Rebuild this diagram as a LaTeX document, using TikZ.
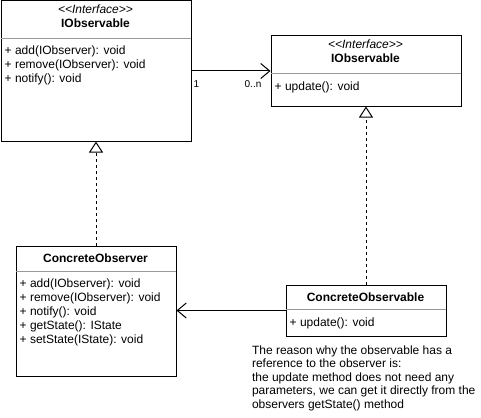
\documentclass[tikz,border=0pt]{standalone}
\usepackage{fontspec}
\setmainfont{Liberation Sans}
\usetikzlibrary{arrows.meta}
\definecolor{sepgray}{HTML}{999999}
\begin{document}
\begin{tikzpicture}[x=1pt,y=-1pt,
  box/.style={draw=black, line width=1pt, inner sep=0pt, anchor=north west},
  sepline/.style={draw=sepgray, line width=1pt},
  txt/.style={inner sep=0pt, font=\fontsize{12}{14}\selectfont, text height=9pt, text depth=3pt},
  attr/.style={txt, anchor=west},
  stereo/.style={txt, font=\fontsize{12}{14}\selectfont\itshape},
  title/.style={txt, font=\fontsize{12}{14}\selectfont\bfseries},
  mult/.style={inner sep=0pt, font=\fontsize{10}{12}\selectfont, text height=7.5pt, text depth=2.5pt},
  assoc/.style={line width=1pt, -{Straight Barb[length=9pt,width=15pt]}},
  realize/.style={line width=1pt, dash pattern=on 3pt off 3pt, -{Triangle[open,length=11pt,width=14pt]}}
]
\useasboundingbox (0,0) rectangle (481,417);

% IObservable (left)
\node[box, minimum width=190pt, minimum height=140pt] (obs) at (0.5,0.5) {};
\draw[sepline] (0.5,38.5) -- (190.5,38.5);
\node[stereo] (obsst) at (95.5,11) {<\kern0pt<Interface>\kern0pt>};
\node[title] (obsname) at (95.5,25) {IObservable};
\node[attr] (obsa1) at (4.5,52) {+ add(IObserver): void};
\node[attr] (obsa2) at (4.5,66) {+ remove(IObserver): void};
\node[attr] (obsa3) at (4.5,80) {+ notify(): void};

% IObservable (right)
\node[box, minimum width=190pt, minimum height=70pt] (ifc) at (270.5,35.5) {};
\draw[sepline] (270.5,73.5) -- (460.5,73.5);
\node[stereo] (ifcst) at (365.5,45.5) {<\kern0pt<Interface>\kern0pt>};
\node[title] (ifcname) at (365.5,59.5) {IObservable};
\node[attr] (ifca1) at (274.5,87.5) {+ update(): void};

% ConcreteObserver
\node[box, minimum width=160pt, minimum height=130pt] (cob) at (15.5,245.5) {};
\draw[sepline] (15.5,271.5) -- (175.5,271.5);
\node[title] (cobname) at (95.5,259) {ConcreteObserver};
\node[attr] (coba1) at (19.5,284.5) {+ add(IObserver): void};
\node[attr] (coba2) at (19.5,298.5) {+ remove(IObserver): void};
\node[attr] (coba3) at (19.5,312.5) {+ notify(): void};
\node[attr] (coba4) at (19.5,326.5) {+ getState(): IState};
\node[attr] (coba5) at (19.5,340.5) {+ setState(IState): void};

% ConcreteObservable
\node[box, minimum width=160pt, minimum height=51pt] (cobs) at (285.5,284.5) {};
\draw[sepline] (285.5,309.5) -- (445.5,309.5);
\node[title] (cobsname) at (365.5,298) {ConcreteObservable};
\node[attr] (cobsa1) at (289.5,323) {+ update(): void};

% note
\node[inner sep=0pt, anchor=north west, align=left,
      font=\fontsize{12}{13.4}\selectfont] (note) at (251.8,345.5) {The reason why the observable has a\\reference to the observer is:\\the update method does not need any\\parameters, we can get it directly from the\\observers getState() method};

% connectors
\draw[assoc] (obs.east) -- (ifc.west);
\node[mult] (m1) at (196.5,85) {1};
\node[mult] (m2) at (253,85) {0..n};
\draw[assoc] (cobs.west) -- (cobs.west -| cob.east);
\draw[realize] (cob.north) -- (obs.south);
\draw[realize] (cobs.north) -- (ifc.south);
\end{tikzpicture}
\end{document}
